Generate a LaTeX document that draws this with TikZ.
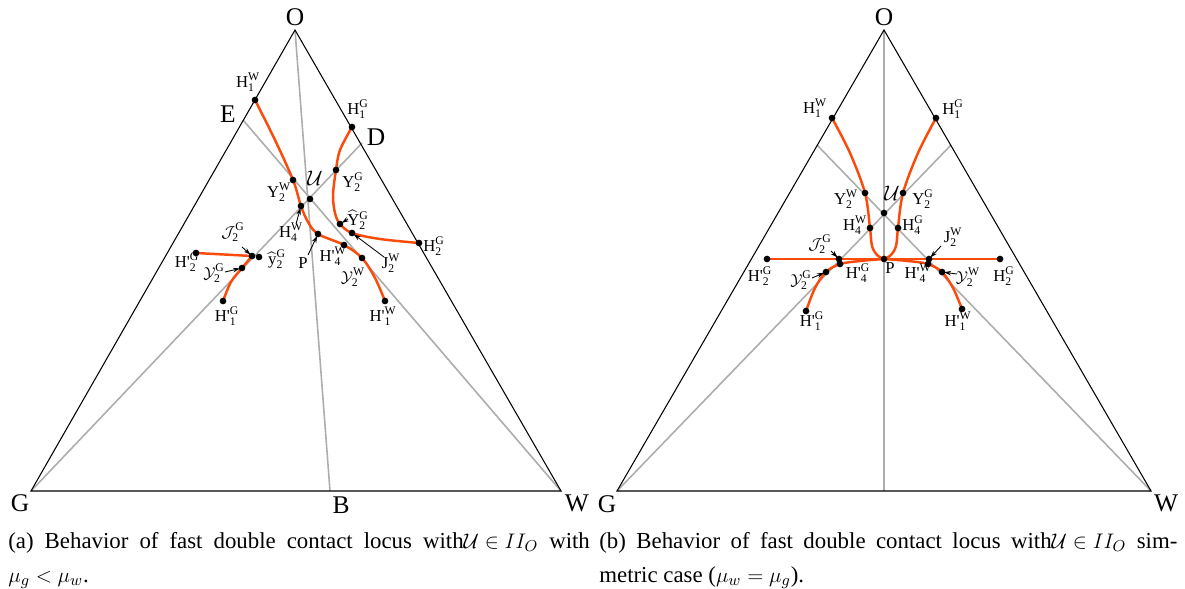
\documentclass[tikz,border=0pt]{standalone}
\usepackage{amsmath}
\usepackage{fontspec}
\setmainfont{Liberation Serif}
\usetikzlibrary{arrows.meta}
\definecolor{locusred}{RGB}{250,75,10}
\newcommand{\hlab}[3]{#1$_{\text{#2}}^{\text{#3}}$}
\newcommand{\clab}[3]{$\mathcal{#1}_{\text{#2}}^{\text{#3}}$}
\newcommand{\Hp}{H\textquotesingle}
\tikzset{
  side/.style={line width=0.6pt},
  ray/.style={line width=0.9pt, color=black!32},
  locus/.style={line width=1.4pt, color=locusred, line join=round},
  vtx/.style={font=\fontsize{14.5}{16}\selectfont, inner sep=0pt},
  lab/.style={font=\fontsize{9.5}{11}\selectfont, inner sep=0.5pt},
  ptr/.style={-{Stealth[length=4pt,width=2.6pt]}, line width=0.5pt, shorten >=1.2pt},
  captext/.style={font=\fontsize{13}{15}\selectfont, inner sep=0pt, anchor=base west},
}
\begin{document}
\begin{tikzpicture}[x=0.02cm, y=-0.02cm]
  \useasboundingbox (0,0) rectangle (1185,588);

  % ---- (a) mu_g < mu_w
  \coordinate (Oa) at (295,30);
  \coordinate (Ga) at (31,491);
  \coordinate (Wa) at (561,491);
  \coordinate (Ba) at (330,491);
  \coordinate (Ea) at (243,120);
  \coordinate (Da) at (362,143);
  \draw[ray] (Ga) -- (Da);
  \draw[ray] (Wa) -- (Ea);
  \draw[ray] (Oa) -- (Ba);
  \draw[side] (Oa) -- (Ga) -- (Wa) -- cycle;
  \node[vtx] (lOa) at (295,17) {O};
  \node[vtx] (lGa) at (20,503) {G};
  \node[vtx] (lWa) at (577,503) {W};
  \node[vtx] (lBa) at (341,505) {B};
  \node[vtx] (lEa) at (228,114) {E};
  \node[vtx] (lDa) at (376,137) {D};

  \coordinate (Ua) at (310,199);
  \coordinate (H1Wa) at (255,100);
  \coordinate (Y2Wa) at (293,180);
  \coordinate (H4Wa) at (301,206);
  \coordinate (Pa) at (318,234);
  \coordinate (H4pWa) at (344,245);
  \coordinate (cY2Wa) at (362,258);
  \coordinate (H1pWa) at (385,301);
  \coordinate (H1Ga) at (352,127);
  \coordinate (Y2Ga) at (336,170);
  \coordinate (hY2Ga) at (340,224);
  \coordinate (J2Wa) at (352,233);
  \coordinate (H2Ga) at (419,243);
  \coordinate (H2pGa) at (196,253);
  \coordinate (J2Ga) at (252,256);
  \coordinate (hy2Ga) at (259,257);
  \coordinate (cY2Ga) at (242,268);
  \coordinate (H1pGa) at (223,301);

  \draw[locus] plot[smooth, tension=0.55] coordinates {(H1Wa) (275,140) (Y2Wa) (H4Wa) (308,222) (Pa) (H4pWa) (cY2Wa) (375,278) (H1pWa)};
  \draw[locus] plot[smooth, tension=0.55] coordinates {(H1Ga) (340,150) (Y2Ga) (333,195) (335,213) (hY2Ga) (J2Wa) (380,239) (H2Ga)};
  \draw[locus] (H2pGa) -- (J2Ga);
  \draw[locus] plot[smooth, tension=0.55] coordinates {(J2Ga) (cY2Ga) (231,282) (H1pGa)};

  \foreach \p in {Ua,H1Wa,Y2Wa,H4Wa,Pa,H4pWa,cY2Wa,H1pWa,H1Ga,Y2Ga,hY2Ga,J2Wa,H2Ga,H2pGa,J2Ga,hy2Ga,cY2Ga,H1pGa}
    \fill (\p) circle (1.9pt);

  \node[lab] (lUa) at (315,178) {\fontsize{13}{14}\selectfont$\mathcal{U}$};
  \node[lab] (lH1Wa) at (248,82) {\hlab{H}{1}{W}};
  \node[lab] (lH1Ga) at (358,109) {\hlab{H}{1}{G}};
  \node[lab] (lY2Wa) at (279,192) {\hlab{Y}{2}{W}};
  \node[lab] (lY2Ga) at (353,182) {\hlab{Y}{2}{G}};
  \node[lab] (lH4Wa) at (291,232) {\hlab{H}{4}{W}};
  \node[lab] (lhY2Ga) at (358,220) {\hlab{$\widehat{\text{Y}}$}{2}{G}};
  \node[lab] (lPa) at (303,263) {P};
  \node[lab] (lH4pWa) at (333,256) {\hlab{\Hp}{4}{W}};
  \node[lab] (lJ2Wa) at (391,263) {\hlab{J}{2}{W}};
  \node[lab] (lH2Ga) at (434,246) {\hlab{H}{2}{G}};
  \node[lab] (lcY2Wa) at (353,277) {\clab{Y}{2}{W}};
  \node[lab] (lH1pWa) at (383,316) {\hlab{\Hp}{1}{W}};
  \node[lab] (lJ2Ga) at (233,232) {\clab{J}{2}{G}};
  \node[lab] (lhy2Ga) at (277,259) {\hlab{$\widehat{\text{y}}$}{2}{G}};
  \node[lab] (lH2pGa) at (187,262) {\hlab{\Hp}{2}{G}};
  \node[lab] (lcY2Ga) at (214,273) {\clab{Y}{2}{G}};
  \node[lab] (lH1pGa) at (227,316) {\hlab{\Hp}{1}{G}};

  \draw[ptr] (296,224) -- (H4Wa);
  \draw[ptr] (308,255) -- (Pa);
  \draw[ptr] (384,257) -- (J2Wa);
  \draw[ptr] (348,219) -- (hY2Ga);
  \draw[ptr] (242,247) -- (J2Ga);
  \draw[ptr] (225,272) -- (cY2Ga);

  % ---- (b) symmetric case
  \coordinate (Ob) at (884,30);
  \coordinate (Gb) at (617,491);
  \coordinate (Wb) at (1151,491);
  \coordinate (Bb) at (884,491);
  \coordinate (Eb) at (817,145);
  \coordinate (Db) at (951,145);
  \draw[ray] (Gb) -- (Db);
  \draw[ray] (Wb) -- (Eb);
  \draw[ray] (Ob) -- (Bb);
  \draw[side] (Ob) -- (Gb) -- (Wb) -- cycle;
  \node[vtx] (lOb) at (884,17) {O};
  \node[vtx] (lGb) at (607,504) {G};
  \node[vtx] (lWb) at (1166,503) {W};

  \coordinate (Ub) at (884,213);
  \coordinate (Pb) at (884,259);
  \coordinate (H1Wb) at (832,118);
  \coordinate (Y2Wb) at (865,193);
  \coordinate (H4Wb) at (870,228);
  \coordinate (H1Gb) at (936,118);
  \coordinate (Y2Gb) at (903,193);
  \coordinate (H4Gb) at (898,228);
  \coordinate (H2pGb) at (767,259);
  \coordinate (H2Gb) at (1000,259);
  \coordinate (J2Gb) at (839,259);
  \coordinate (J2Wb) at (929,259);
  \coordinate (H4pGb) at (840,264);
  \coordinate (cY2Gb) at (826,272);
  \coordinate (H1pGb) at (806,311);
  \coordinate (H4pWb) at (928,264);
  \coordinate (cY2Wb) at (942,272);
  \coordinate (H1pWb) at (962,309);

  \draw[locus] (H2pGb) -- (H2Gb);
  \draw[locus] plot[smooth, tension=0.55] coordinates {(H1Wb) (850,153) (Y2Wb) (H4Wb) (872,246) (877,255) (Pb)};
  \draw[locus] plot[smooth, tension=0.55] coordinates {(H1Gb) (918,153) (Y2Gb) (H4Gb) (896,246) (891,255) (Pb)};
  \draw[locus] plot[smooth, tension=0.55] coordinates {(Pb) (860,261) (H4pGb) (cY2Gb) (815,288) (H1pGb)};
  \draw[locus] plot[smooth, tension=0.55] coordinates {(Pb) (908,261) (H4pWb) (cY2Wb) (953,288) (H1pWb)};

  \foreach \p in {Ub,Pb,H1Wb,Y2Wb,H4Wb,H1Gb,Y2Gb,H4Gb,H2pGb,H2Gb,J2Gb,J2Wb,H4pGb,cY2Gb,H1pGb,H4pWb,cY2Wb,H1pWb}
    \fill (\p) circle (1.9pt);

  \node[lab] (lUb) at (892,193) {\fontsize{13}{14}\selectfont$\mathcal{U}$};
  \node[lab] (lH1Wb) at (815,108) {\hlab{H}{1}{W}};
  \node[lab] (lH1Gb) at (953,109) {\hlab{H}{1}{G}};
  \node[lab] (lY2Wb) at (846,199) {\hlab{Y}{2}{W}};
  \node[lab] (lY2Gb) at (923,199) {\hlab{Y}{2}{G}};
  \node[lab] (lH4Wb) at (855,225) {\hlab{H}{4}{W}};
  \node[lab] (lH4Gb) at (913,225) {\hlab{H}{4}{G}};
  \node[lab] (lJ2Gb) at (820,244) {\clab{J}{2}{G}};
  \node[lab] (lJ2Wb) at (953,237) {\hlab{J}{2}{W}};
  \node[lab] (lH2pGb) at (760,276) {\hlab{\Hp}{2}{G}};
  \node[lab] (lPb) at (890,268) {P};
  \node[lab] (lH4pGb) at (858,273) {\hlab{\Hp}{4}{G}};
  \node[lab] (lH4pWb) at (918,273) {\hlab{\Hp}{4}{W}};
  \node[lab] (lH2Gb) at (1004,276) {\hlab{H}{2}{G}};
  \node[lab] (lcY2Gb) at (801,280) {\clab{Y}{2}{G}};
  \node[lab] (lcY2Wb) at (968,277) {\clab{Y}{2}{W}};
  \node[lab] (lH1pGb) at (812,321) {\hlab{\Hp}{1}{G}};
  \node[lab] (lH1pWb) at (958,321) {\hlab{\Hp}{1}{W}};

  \draw[ptr] (831,251) -- (J2Gb);
  \draw[ptr] (941,246) -- (J2Wb);
  \draw[ptr] (812,278) -- (cY2Gb);
  \draw[ptr] (957,274) -- (cY2Wb);

  % ---- captions
  \node[captext] (capa) at (8,548) {\makebox[331pt][s]{(a) Behavior of fast double contact locus with\mbox{$\mathcal{U}\in II_O$} with}};
  \node[captext] (capa2) at (8,582) {$\mu_g<\mu_w$.};
  \node[captext] (capb) at (599,548) {\makebox[329pt][s]{(b) Behavior of fast double contact locus with\mbox{$\mathcal{U}\in II_O$} sim-}};
  \node[captext] (capb2) at (599,582) {metric case ($\mu_w=\mu_g$).};
\end{tikzpicture}
\end{document}
